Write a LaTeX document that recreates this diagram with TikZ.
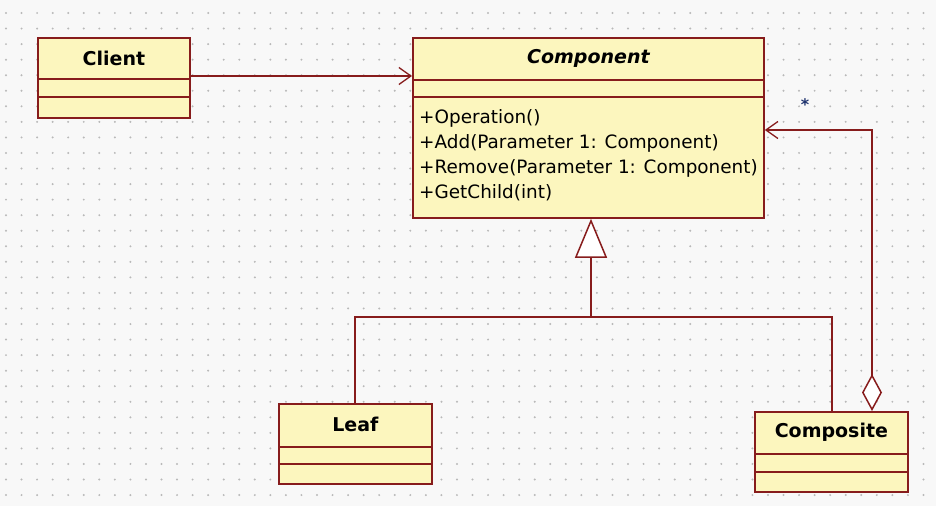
\documentclass[tikz,border=0pt]{standalone}
\usepackage{fontspec}
\setmainfont{DejaVu Sans}
\usetikzlibrary{arrows.meta,calc,positioning}

\definecolor{umlborder}{RGB}{135,28,28}
\definecolor{umlfill}{RGB}{252,246,190}
\definecolor{gridbg}{RGB}{248,248,248}
\definecolor{griddot}{RGB}{185,185,185}
\definecolor{multcolor}{RGB}{30,50,110}

\tikzset{
  classbox/.style={draw=umlborder, fill=umlfill, line width=1.8pt,
                   rectangle, inner sep=0pt, anchor=north west},
  classname/.style={font=\fontsize{19}{22}\selectfont\bfseries, text=black},
  classdiv/.style={draw=umlborder, line width=1.8pt},
  operation/.style={font=\fontsize{18.4}{22}\selectfont, anchor=west, inner sep=0pt},
  connector/.style={draw=umlborder, line width=1.5pt},
  navigable/.style={connector, -{Straight Barb[length=12pt,width=17pt,line width=1.3pt]}},
  realizes/.style={connector, -{Triangle[open,fill=white,length=39pt,width=32pt,line width=1.5pt]}},
  aggregates/.style={connector, {Diamond[open,fill=white,length=37pt,width=20pt,line width=1.5pt]}-{Straight Barb[length=12pt,width=17pt,line width=1.3pt]}}
}

% box with a name compartment and two dividers
\newcommand{\umlclass}[7]{%
  \node[classbox, minimum width=#3pt, minimum height=#4pt] (#1) at (#2) {};
  \node[classname] (#1name) at ($(#1.north)+(0,21)$) {#5};
  \draw[classdiv] ($(#1.north west)+(0,#6)$) -- ($(#1.north east)+(0,#6)$);
  \draw[classdiv] ($(#1.north west)+(0,#7)$) -- ($(#1.north east)+(0,#7)$);
}

\begin{document}
\begin{tikzpicture}[x=1pt,y=-1pt]
\fill[gridbg] (0,0) rectangle (936,506);
\useasboundingbox (0,0) rectangle (936,506);

% dotted grid
\foreach \i in {0,...,59}
  \foreach \j in {0,...,31}
    \fill[griddot] ({6+15.55*\i},{13+15.55*\j}) circle (1.1pt);

% classes
\umlclass{client}{37,37}{152}{80}{Client}{42}{60}
\umlclass{component}{412,37}{351}{180}{\itshape Component}{43}{60}
\umlclass{leaf}{278,403}{153}{80}{Leaf}{44}{61}
\umlclass{composite}{754,411}{153}{80}{Composite}{43}{61}

% operations of Component
\foreach \op [count=\k] in {+Operation(),
    +Add(Parameter 1: Component),
    +Remove(Parameter 1: Component),
    +GetChild(int)}
  \node[operation] (op\k) at (419,{93+25*\k}) {\op};

% client uses component
\draw[navigable] (client.east |- 0,76) -- (component.west |- 0,76);

% generalization
\coordinate (junction) at (591,317);
\coordinate (leafstem) at (355,317);
\coordinate (compstem) at (832,317);
\draw[realizes] (junction) -- (junction |- component.south);
\draw[connector] (leafstem |- leaf.north) -- (leafstem) -- (compstem) -- (compstem |- composite.north);

% aggregation of children
\coordinate (childbend) at (872,130);
\draw[aggregates] (childbend |- composite.north) -- (childbend) -- (component.east |- childbend);
\node[text=multcolor, font=\fontsize{16}{16}\selectfont\bfseries] (mult) at (805,105) {*};
\end{tikzpicture}
\end{document}
